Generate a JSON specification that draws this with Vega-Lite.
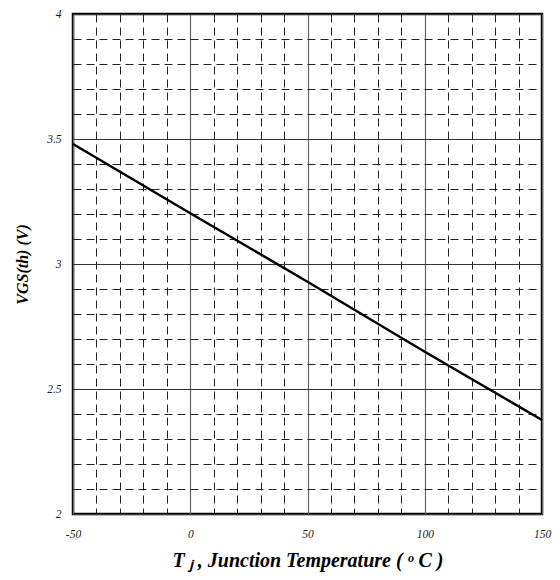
{
  "$schema": "https://vega.github.io/schema/vega-lite/v6.json",
  "width": 469,
  "height": 500,
  "autosize": {"type": "none"},
  "padding": {"left": 73, "top": 14, "right": 18, "bottom": 66},
  "background": "white",
  "config": {
    "view": {"stroke": "black", "strokeWidth": 2.5},
    "axis": {
      "labelFont": "Liberation Serif",
      "labelFontStyle": "italic",
      "labelFontSize": 11.5,
      "labelColor": "#222",
      "titleFont": "Liberation Serif",
      "titleFontStyle": "italic",
      "titleFontWeight": "bold",
      "titleColor": "black",
      "ticks": false,
      "domain": false
    }
  },
  "data": {
    "values": [
      {"T": -50, "V": 3.48},
      {"T": 0, "V": 3.203},
      {"T": 50, "V": 2.929},
      {"T": 100, "V": 2.649},
      {"T": 150, "V": 2.376}
    ]
  },
  "mark": {"type": "line", "color": "black", "strokeWidth": 2.5},
  "encoding": {
    "x": {
      "field": "T",
      "type": "quantitative",
      "scale": {"domain": [-50, 150], "nice": false, "zero": false},
      "axis": {
        "values": [-50, -40, -30, -20, -10, 0, 10, 20, 30, 40, 50, 60, 70, 80, 90, 100, 110, 120, 130, 140, 150],
        "labelExpr": "datum.value % 50 === 0 ? '' + datum.value : ''",
        "labelFont": "Liberation Serif",
        "labelFontStyle": "italic",
        "labelPadding": 14,
        "labelFlush": false,
        "labelOverlap": false,
        "grid": true,
        "gridDash": {"condition": {"test": "datum.value % 50 === 0", "value": []}, "value": [8, 5]},
        "gridColor": {"condition": {"test": "datum.value % 50 === 0", "value": "#666"}, "value": "#222"},
        "gridWidth": {"condition": {"test": "datum.value % 50 === 0", "value": 1.2}, "value": 1},
        "gridOpacity": 1,
        "title": "T ⱼ , Junction Temperature (  ᵒ C )",
        "titleFontSize": 20,
        "titlePadding": 11
      }
    },
    "y": {
      "field": "V",
      "type": "quantitative",
      "scale": {"domain": [2, 4], "nice": false, "zero": false},
      "axis": {
        "values": [2, 2.1, 2.2, 2.3, 2.4, 2.5, 2.6, 2.7, 2.8, 2.9, 3, 3.1, 3.2, 3.3, 3.4, 3.5, 3.6, 3.7, 3.8, 3.9, 4],
        "labelExpr": "datum.value * 2 === round(datum.value * 2) ? '' + datum.value : ''",
        "labelFont": "Liberation Serif",
        "labelFontStyle": "italic",
        "labelPadding": 12,
        "labelFlush": false,
        "labelOverlap": false,
        "grid": true,
        "gridDash": {"condition": {"test": "datum.value * 2 === round(datum.value * 2)", "value": []}, "value": [8, 5]},
        "gridColor": {"condition": {"test": "datum.value * 2 === round(datum.value * 2)", "value": "#333"}, "value": "#222"},
        "gridWidth": 1,
        "gridOpacity": 1,
        "title": "VGS(th) (V)",
        "titleFontSize": 16,
        "titlePadding": 16
      }
    }
  }
}
